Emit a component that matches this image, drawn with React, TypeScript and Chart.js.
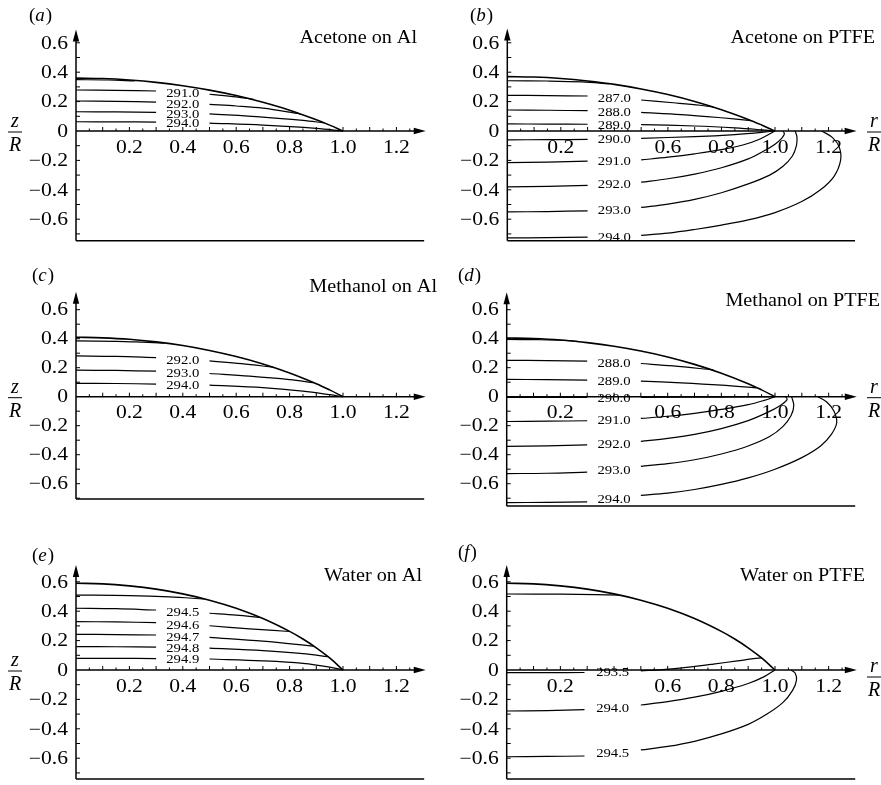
import React, { useEffect, useRef } from "react";
import { Chart, registerables } from "chart.js";
Chart.register(...registerables);

type Pt = [number, number];
interface Contour { label: string; left: Pt[]; right: Pt[] }

// ---------- axis ticks ----------
const rTickValuesAl = [0.2, 0.4, 0.6, 0.8, 1.0, 1.2];
const rTickLabelsAl = ["0.2", "0.4", "0.6", "0.8", "1.0", "1.2"];
const rTickValuesPtfe = [0.2, 0.6, 0.8, 1.0, 1.2];
const rTickLabelsPtfe = ["0.2", "0.6", "0.8", "1.0", "1.2"];
const rMinorTicks = [0.05, 0.1, 0.15, 0.2, 0.25, 0.3, 0.35, 0.4, 0.45, 0.5, 0.55, 0.6, 0.65, 0.7, 0.75, 0.8, 0.85, 0.9, 0.95, 1.0, 1.05, 1.1, 1.15, 1.2, 1.25];
const zTickValues = [0.6, 0.4, 0.2, 0, -0.2, -0.4, -0.6];
const zTickLabels = ["0.6", "0.4", "0.2", "0", "\u22120.2", "\u22120.4", "\u22120.6"];
const zMinorTicks = [0.6, 0.5, 0.4, 0.3, 0.2, 0.1, -0.1, -0.2, -0.3, -0.4, -0.5, -0.6, -0.7];

// ---------- (a) Acetone on Al ----------
const acetoneAlSurface: Pt[] = [[0, 0.36], [0.1, 0.357], [0.2, 0.347], [0.3, 0.331], [0.4, 0.308], [0.5, 0.278], [0.6, 0.241], [0.7, 0.195], [0.8, 0.141], [0.9, 0.076], [0.95, 0.04], [1.0, 0]];
const acetoneAlContours: Contour[] = [
  { label: "", left: [[0, 0.349], [0.12, 0.347], [0.22, 0.341]], right: [] },
  { label: "291.0", left: [[0, 0.279], [0.15, 0.277], [0.3, 0.272]], right: [[0.5, 0.25], [0.6, 0.232], [0.665, 0.215]] },
  { label: "292.0", left: [[0, 0.204], [0.15, 0.202], [0.3, 0.197]], right: [[0.5, 0.181], [0.6, 0.17], [0.7, 0.155], [0.84, 0.117]] },
  { label: "293.0", left: [[0, 0.131], [0.15, 0.13], [0.3, 0.127]], right: [[0.5, 0.116], [0.7, 0.095], [0.85, 0.072], [0.93, 0.055]] },
  { label: "294.0", left: [[0, 0.063], [0.15, 0.062], [0.3, 0.061]], right: [[0.5, 0.054], [0.7, 0.04], [0.9, 0.018], [1.0, 0]] },
];

// ---------- (b) Acetone on PTFE ----------
const acetonePtfeSurface: Pt[] = [[0, 0.37], [0.1, 0.367], [0.2, 0.357], [0.3, 0.34], [0.4, 0.317], [0.5, 0.286], [0.6, 0.248], [0.7, 0.201], [0.8, 0.145], [0.9, 0.079], [0.95, 0.041], [1.0, 0]];
const acetonePtfeContours: Contour[] = [
  { label: "", left: [[0, 0.342], [0.15, 0.34], [0.28, 0.334], [0.38, 0.321]], right: [] },
  { label: "287.0", left: [[0, 0.243], [0.15, 0.241], [0.3, 0.238]], right: [[0.5, 0.211], [0.62, 0.192], [0.72, 0.175], [0.77, 0.163]] },
  { label: "288.0", left: [[0, 0.143], [0.15, 0.141], [0.3, 0.138]], right: [[0.5, 0.127], [0.65, 0.112], [0.8, 0.09], [0.91, 0.071]] },
  { label: "289.0", left: [[0, 0.048], [0.15, 0.047], [0.3, 0.046]], right: [[0.5, 0.044], [0.7, 0.034], [0.85, 0.021], [0.95, 0.008], [1.0, 0]] },
  { label: "290.0", left: [[0, -0.06], [0.15, -0.059], [0.3, -0.057]], right: [[0.5, -0.05], [0.7, -0.038], [0.85, -0.024], [0.95, -0.01], [1.0, 0]] },
  { label: "291.0", left: [[0, -0.215], [0.15, -0.212], [0.3, -0.205]], right: [[0.5, -0.197], [0.6, -0.178], [0.7, -0.155], [0.8, -0.127], [0.88, -0.095], [0.94, -0.058], [1.0, 0]] },
  { label: "292.0", left: [[0, -0.38], [0.15, -0.377], [0.3, -0.37]], right: [[0.5, -0.348], [0.6, -0.325], [0.7, -0.293], [0.8, -0.25], [0.9, -0.19], [0.96, -0.135], [1.0, -0.09], [1.025, -0.05], [1.035, -0.02], [1.03, 0]] },
  { label: "293.0", left: [[0, -0.55], [0.15, -0.548], [0.3, -0.543]], right: [[0.5, -0.52], [0.6, -0.497], [0.7, -0.465], [0.8, -0.42], [0.9, -0.36], [0.98, -0.3], [1.03, -0.24], [1.065, -0.17], [1.08, -0.1], [1.082, -0.04], [1.075, 0]] },
  { label: "294.0", left: [[0, -0.727], [0.15, -0.726], [0.3, -0.722]], right: [[0.5, -0.71], [0.6, -0.695], [0.7, -0.67], [0.8, -0.64], [0.9, -0.605], [1.0, -0.555], [1.1, -0.48], [1.17, -0.4], [1.22, -0.31], [1.245, -0.2], [1.24, -0.11], [1.215, -0.045], [1.175, 0]] },
];

// ---------- (c) Methanol on Al ----------
const methanolAlSurface: Pt[] = [[0, 0.41], [0.1, 0.406], [0.2, 0.396], [0.3, 0.378], [0.4, 0.353], [0.5, 0.319], [0.6, 0.277], [0.7, 0.226], [0.8, 0.164], [0.9, 0.09], [0.95, 0.047], [1.0, 0]];
const methanolAlContours: Contour[] = [
  { label: "", left: [[0, 0.385], [0.15, 0.382], [0.25, 0.376], [0.33, 0.37]], right: [] },
  { label: "292.0", left: [[0, 0.281], [0.15, 0.278], [0.3, 0.27]], right: [[0.5, 0.247], [0.62, 0.228], [0.74, 0.203]] },
  { label: "293.0", left: [[0, 0.183], [0.15, 0.181], [0.3, 0.176]], right: [[0.5, 0.16], [0.65, 0.142], [0.8, 0.118], [0.89, 0.097]] },
  { label: "294.0", left: [[0, 0.092], [0.15, 0.091], [0.3, 0.087]], right: [[0.5, 0.08], [0.7, 0.062], [0.85, 0.038], [0.95, 0.014], [1.0, 0]] },
];

// ---------- (d) Methanol on PTFE ----------
const methanolPtfeSurface: Pt[] = [[0, 0.405], [0.1, 0.401], [0.2, 0.391], [0.3, 0.373], [0.4, 0.348], [0.5, 0.315], [0.6, 0.274], [0.7, 0.223], [0.8, 0.162], [0.9, 0.09], [0.95, 0.047], [1.0, 0]];
const methanolPtfeContours: Contour[] = [
  { label: "", left: [[0, 0.395], [0.12, 0.393], [0.22, 0.388], [0.27, 0.38]], right: [] },
  { label: "288.0", left: [[0, 0.251], [0.15, 0.249], [0.3, 0.245]], right: [[0.5, 0.229], [0.62, 0.212], [0.77, 0.185]] },
  { label: "289.0", left: [[0, 0.119], [0.15, 0.118], [0.3, 0.114]], right: [[0.5, 0.107], [0.65, 0.096], [0.8, 0.08], [0.93, 0.06]] },
  { label: "290.0", left: [[0, -0.005], [0.15, -0.005], [0.3, -0.005]], right: [[0.5, -0.004], [0.8, -0.003], [1.0, 0]] },
  { label: "291.0", left: [[0, -0.171], [0.15, -0.169], [0.3, -0.166]], right: [[0.5, -0.15], [0.6, -0.135], [0.7, -0.115], [0.8, -0.088], [0.9, -0.055], [0.96, -0.025], [1.0, 0]] },
  { label: "292.0", left: [[0, -0.342], [0.15, -0.339], [0.3, -0.332]], right: [[0.5, -0.308], [0.6, -0.288], [0.7, -0.26], [0.8, -0.22], [0.9, -0.165], [0.97, -0.11], [1.02, -0.06], [1.045, -0.02], [1.04, 0]] },
  { label: "293.0", left: [[0, -0.53], [0.15, -0.528], [0.3, -0.52]], right: [[0.5, -0.48], [0.6, -0.462], [0.7, -0.435], [0.8, -0.395], [0.9, -0.34], [0.98, -0.275], [1.03, -0.205], [1.06, -0.13], [1.07, -0.06], [1.062, 0]] },
  { label: "294.0", left: [[0, -0.73], [0.15, -0.729], [0.3, -0.725]], right: [[0.5, -0.68], [0.6, -0.665], [0.7, -0.64], [0.8, -0.605], [0.9, -0.56], [1.0, -0.5], [1.1, -0.42], [1.17, -0.34], [1.21, -0.26], [1.23, -0.18], [1.22, -0.1], [1.195, -0.04], [1.16, 0]] },
];

// ---------- (e) Water on Al ----------
const waterAlSurface: Pt[] = [[0, 0.59], [0.1, 0.586], [0.2, 0.572], [0.3, 0.55], [0.4, 0.518], [0.5, 0.475], [0.6, 0.42], [0.7, 0.35], [0.8, 0.263], [0.85, 0.211], [0.9, 0.151], [0.95, 0.082], [1.0, 0]];
const waterAlContours: Contour[] = [
  { label: "", left: [[0, 0.51], [0.2, 0.506], [0.35, 0.497], [0.48, 0.483]], right: [] },
  { label: "294.5", left: [[0, 0.42], [0.15, 0.417], [0.3, 0.408]], right: [[0.5, 0.386], [0.6, 0.373], [0.69, 0.357]] },
  { label: "294.6", left: [[0, 0.329], [0.15, 0.327], [0.3, 0.322]], right: [[0.5, 0.301], [0.65, 0.28], [0.8, 0.262]] },
  { label: "294.7", left: [[0, 0.243], [0.15, 0.241], [0.3, 0.238]], right: [[0.5, 0.222], [0.7, 0.196], [0.89, 0.163]] },
  { label: "294.8", left: [[0, 0.159], [0.15, 0.158], [0.3, 0.156]], right: [[0.5, 0.149], [0.7, 0.132], [0.85, 0.112], [0.945, 0.09]] },
  { label: "294.9", left: [[0, 0.079], [0.15, 0.079], [0.3, 0.078]], right: [[0.5, 0.075], [0.7, 0.062], [0.85, 0.045], [0.95, 0.02], [1.0, 0]] },
];

// ---------- (f) Water on PTFE ----------
const waterPtfeSurface: Pt[] = [[0, 0.59], [0.1, 0.586], [0.2, 0.572], [0.3, 0.55], [0.4, 0.518], [0.5, 0.475], [0.6, 0.42], [0.7, 0.35], [0.8, 0.263], [0.85, 0.211], [0.9, 0.151], [0.95, 0.082], [1.0, 0]];
const waterPtfeContours: Contour[] = [
  { label: "", left: [[0, 0.517], [0.2, 0.516], [0.33, 0.513], [0.42, 0.509]], right: [] },
  { label: "293.5", left: [[0, -0.018], [0.15, -0.018], [0.29, -0.017]], right: [[0.5, -0.006], [0.58, 0.003], [0.67, 0.018], [0.77, 0.04], [0.86, 0.062], [0.92, 0.077], [0.95, 0.082]] },
  { label: "294.0", left: [[0, -0.279], [0.15, -0.276], [0.29, -0.27]], right: [[0.5, -0.238], [0.6, -0.215], [0.7, -0.185], [0.8, -0.145], [0.9, -0.092], [0.96, -0.045], [1.0, 0]] },
  { label: "294.5", left: [[0, -0.59], [0.15, -0.588], [0.29, -0.585]], right: [[0.5, -0.544], [0.6, -0.52], [0.7, -0.485], [0.8, -0.435], [0.9, -0.37], [0.97, -0.3], [1.03, -0.22], [1.065, -0.14], [1.08, -0.07], [1.075, -0.02], [1.06, 0]] },
];

// ---------- layout (positions only) ----------
interface PanelSpec {
  letter: string; title: string;
  left: number; top: number; width: number; height: number;
  x0: number; y0: number; sx: number; sy: number;
  rmax: number; zmax: number; zmin: number;
  surface: Pt[]; contours: Contour[];
  rTicks: number[]; rLabels: string[];
  titleRight: number; titleBase: number;
  letterX: number; letterBase: number;
  frac: "z" | "r"; fracDy: number;
}

const panels: PanelSpec[] = [
  { letter: "a", title: "Acetone on Al", left: 0, top: 0, width: 440, height: 260, x0: 76, y0: 131, sx: 267, sy: 147, rmax: 1.31, zmax: 0.69, zmin: -0.746, surface: acetoneAlSurface, contours: acetoneAlContours, rTicks: rTickValuesAl, rLabels: rTickLabelsAl, titleRight: 417, titleBase: 43, letterX: 29, letterBase: 21, frac: "z", fracDy: 0 },
  { letter: "b", title: "Acetone on PTFE", left: 440, top: 0, width: 441, height: 260, x0: 67.3, y0: 131, sx: 267.7, sy: 147, rmax: 1.305, zmax: 0.698, zmin: -0.746, surface: acetonePtfeSurface, contours: acetonePtfeContours, rTicks: rTickValuesPtfe, rLabels: rTickLabelsPtfe, titleRight: 435, titleBase: 43, letterX: 30, letterBase: 21, frac: "r", fracDy: 0 },
  { letter: "c", title: "Methanol on Al", left: 0, top: 260, width: 440, height: 260, x0: 76, y0: 136.7, sx: 267, sy: 145, rmax: 1.31, zmax: 0.724, zmin: -0.705, surface: methanolAlSurface, contours: methanolAlContours, rTicks: rTickValuesAl, rLabels: rTickLabelsAl, titleRight: 437, titleBase: 32, letterX: 32, letterBase: 21, frac: "z", fracDy: 0 },
  { letter: "d", title: "Methanol on PTFE", left: 440, top: 260, width: 441, height: 260, x0: 66.7, y0: 136.7, sx: 268.3, sy: 145, rmax: 1.305, zmax: 0.72, zmin: -0.754, surface: methanolPtfeSurface, contours: methanolPtfeContours, rTicks: rTickValuesPtfe, rLabels: rTickLabelsPtfe, titleRight: 440, titleBase: 46, letterX: 18, letterBase: 21, frac: "r", fracDy: 0 },
  { letter: "e", title: "Water on Al", left: 0, top: 520, width: 440, height: 265, x0: 76, y0: 150, sx: 267, sy: 147, rmax: 1.31, zmax: 0.714, zmin: -0.741, surface: waterAlSurface, contours: waterAlContours, rTicks: rTickValuesAl, rLabels: rTickLabelsAl, titleRight: 422, titleBase: 61, letterX: 32, letterBase: 41, frac: "z", fracDy: 0 },
  { letter: "f", title: "Water on PTFE", left: 440, top: 520, width: 441, height: 265, x0: 66.7, y0: 150, sx: 268.3, sy: 147, rmax: 1.305, zmax: 0.714, zmin: -0.741, surface: waterPtfeSurface, contours: waterPtfeContours, rTicks: rTickValuesPtfe, rLabels: rTickLabelsPtfe, titleRight: 425, titleBase: 61, letterX: 18, letterBase: 38, frac: "r", fracDy: 6 },
];

const SERIF = '"Liberation Serif", "Times New Roman", Times, serif';

function scaledText(ctx: CanvasRenderingContext2D, text: string, x: number, y: number, align: "left" | "center" | "right", k: number) {
  const w = ctx.measureText(text).width * k;
  const left = align === "center" ? x - w / 2 : align === "right" ? x - w : x;
  ctx.save();
  ctx.textAlign = "left";
  ctx.translate(left, y);
  ctx.scale(k, 1);
  ctx.fillText(text, 0, 0);
  ctx.restore();
}

function makeDeco(p: PanelSpec) {
  return {
    id: "deco",
    afterDatasetsDraw(chart: any) {
      const ctx = chart.ctx as CanvasRenderingContext2D;
      const X = (v: number) => chart.scales.x.getPixelForValue(v);
      const Y = (v: number) => chart.scales.y.getPixelForValue(v);
      const x0 = X(0), y0 = Y(0), yTop = Y(p.zmax), yBot = Y(p.zmin), xEnd = X(p.rmax);
      const seg = (a: number, b: number, c: number, d: number) => {
        ctx.beginPath(); ctx.moveTo(a, b); ctx.lineTo(c, d); ctx.stroke();
      };
      ctx.save();
      ctx.strokeStyle = "#000";
      ctx.fillStyle = "#000";
      ctx.lineWidth = 1.5;
      // y axis + arrow
      seg(x0, yBot, x0, yTop + 6);
      ctx.beginPath(); ctx.moveTo(x0, yTop); ctx.lineTo(x0 - 3.2, yTop + 12); ctx.lineTo(x0 + 3.2, yTop + 12); ctx.closePath(); ctx.fill();
      // x axis + arrow
      seg(x0, y0, xEnd - 6, y0);
      ctx.beginPath(); ctx.moveTo(xEnd, y0); ctx.lineTo(xEnd - 12, y0 - 3.2); ctx.lineTo(xEnd - 12, y0 + 3.2); ctx.closePath(); ctx.fill();
      // bottom line
      seg(x0, yBot, X(p.rmax - 0.006), yBot);
      // ticks
      ctx.lineWidth = 1;
      for (const v of rMinorTicks) {
        const major = Math.abs(v * 10 - Math.round(v * 10)) < 1e-6;
        seg(X(v), y0, X(v), y0 - (major ? 4 : 2.5));
      }
      for (const v of zMinorTicks) seg(x0, Y(v), x0 + 4, Y(v));
      // tick labels
      ctx.font = `18px ${SERIF}`;
      ctx.textBaseline = "middle";
      p.rTicks.forEach((v, i) => scaledText(ctx, p.rLabels[i], X(v), y0 + 17, "center", 1.2));
      zTickValues.forEach((v, i) => scaledText(ctx, zTickLabels[i], x0 - 8, Y(v) + 1, "right", 1.2));
      // contour labels
      ctx.font = `13px ${SERIF}`;
      for (const c of p.contours) {
        if (!c.label || !c.right.length) continue;
        const a = c.left[c.left.length - 1];
        const b = c.right[0];
        scaledText(ctx, c.label, X((a[0] + b[0]) / 2), Y((a[1] + b[1]) / 2) + 1, "center", 1.13);
      }
      // title
      ctx.textBaseline = "alphabetic";
      ctx.font = `18px ${SERIF}`;
      scaledText(ctx, p.title, p.titleRight, p.titleBase, "right", 1.12);
      // panel letter
      ctx.textAlign = "left";
      let lx = p.letterX;
      ctx.font = `19px ${SERIF}`;
      ctx.fillText("(", lx, p.letterBase);
      lx += ctx.measureText("(").width;
      ctx.font = `italic 19px ${SERIF}`;
      ctx.fillText(p.letter, lx, p.letterBase);
      lx += ctx.measureText(p.letter).width + 1;
      ctx.font = `19px ${SERIF}`;
      ctx.fillText(")", lx, p.letterBase);
      // fraction axis label
      ctx.font = `italic 20px ${SERIF}`;
      ctx.textAlign = "center";
      ctx.textBaseline = "middle";
      const cx = p.frac === "z" ? 15 : 434;
      const cy = y0 + p.fracDy;
      ctx.fillText(p.frac, cx, cy - 9);
      ctx.lineWidth = 1;
      seg(cx - 7, cy + 1, cx + 7, cy + 1);
      ctx.fillText("R", cx, cy + 15);
      ctx.restore();
    },
  };
}

const toXY = (pts: Pt[]) => pts.map(([x, y]) => ({ x, y }));

function Panel({ p }: { p: PanelSpec }) {
  const ref = useRef<HTMLCanvasElement>(null);
  useEffect(() => {
    if (!ref.current) return;
    const datasets: any[] = [
      { data: toXY(p.surface), borderColor: "#000", borderWidth: 1.6, pointRadius: 0, showLine: true, tension: 0.35, fill: false },
    ];
    for (const c of p.contours) {
      for (const s of [c.left, c.right]) {
        if (s.length < 2) continue;
        datasets.push({ data: toXY(s), borderColor: "#000", borderWidth: 1.2, pointRadius: 0, showLine: true, tension: 0.35, fill: false });
      }
    }
    const padRight = p.width - (p.x0 + p.rmax * p.sx);
    const padTop = p.y0 - p.zmax * p.sy;
    const padBottom = p.height - (p.y0 - p.zmin * p.sy);
    const chart = new Chart(ref.current, {
      type: "scatter",
      data: { datasets },
      options: {
        animation: false,
        responsive: false,
        devicePixelRatio: 1,
        events: [],
        layout: { padding: { left: p.x0, right: padRight, top: padTop, bottom: padBottom } },
        scales: {
          x: { type: "linear", min: 0, max: p.rmax, display: false },
          y: { type: "linear", min: p.zmin, max: p.zmax, display: false },
        },
        plugins: { legend: { display: false }, tooltip: { enabled: false } },
      },
      plugins: [makeDeco(p)],
    } as any);
    return () => chart.destroy();
  }, [p]);
  return (
    <canvas
      ref={ref}
      width={p.width}
      height={p.height}
      style={{ position: "absolute", left: p.left, top: p.top, width: p.width, height: p.height, display: "block" }}
    />
  );
}

export default function App() {
  return (
    <div style={{ position: "absolute", left: 0, top: 0, width: 881, height: 785, background: "#fff", overflow: "hidden" }}>
      {panels.map((p) => (
        <Panel key={p.letter} p={p} />
      ))}
    </div>
  );
}
